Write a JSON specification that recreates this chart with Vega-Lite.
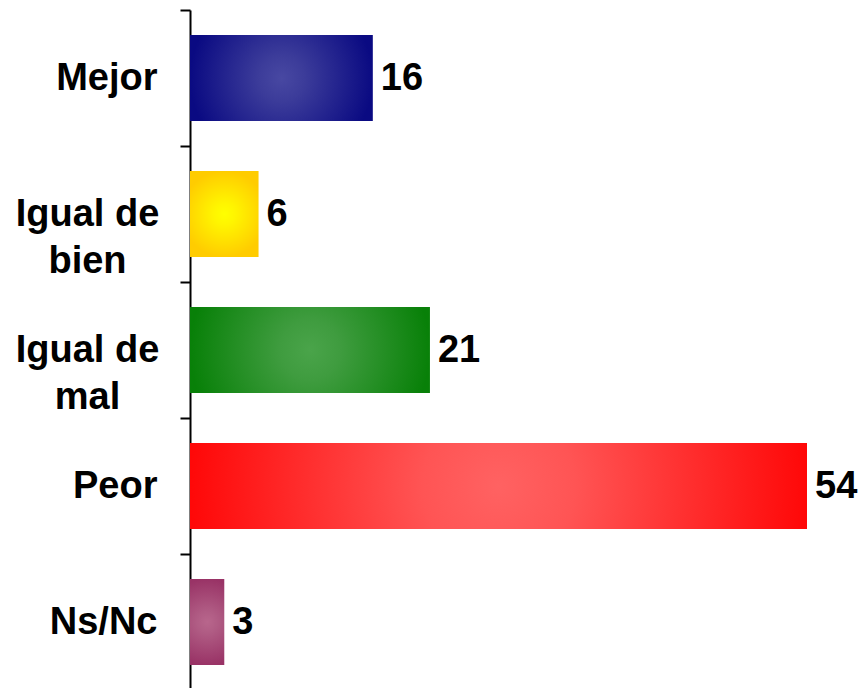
{
  "$schema": "https://vega.github.io/schema/vega-lite/v6.json",
  "width": 617,
  "height": 680,
  "autosize": "none",
  "padding": {"left": 190, "top": 10, "right": 54, "bottom": 0},
  "background": "white",
  "config": {"view": {"stroke": null}},
  "data": {
    "values": [
      {"c": "Mejor", "v": 16},
      {"c": "Igual de bien", "v": 6},
      {"c": "Igual de mal", "v": 21},
      {"c": "Peor", "v": 54},
      {"c": "Ns/Nc", "v": 3}
    ]
  },
  "encoding": {
    "y": {
      "field": "c",
      "type": "nominal",
      "sort": null,
      "scale": {"paddingInner": 0, "paddingOuter": 0},
      "axis": {
        "title": null,
        "tickBand": "extent",
        "domainColor": "black",
        "domainWidth": 2,
        "tickColor": "black",
        "tickWidth": 2,
        "tickSize": 10,
        "labelFont": "Liberation Sans",
        "labelFontWeight": "bold",
        "labelFontSize": 38,
        "labelColor": "black",
        "labelLineHeight": 47,
        "labelBaseline": "middle",
        "labelLimit": 300,
        "labelExpr": "datum.label == 'Igual de bien' ? ['Igual de', 'bien'] : datum.label == 'Igual de mal' ? ['Igual de', 'mal'] : datum.label",
        "labelAlign": {"condition": {"test": "datum.value == 'Igual de bien' || datum.value == 'Igual de mal'", "value": "center"}, "value": "right"},
        "labelPadding": {"condition": {"test": "datum.value == 'Igual de bien' || datum.value == 'Igual de mal'", "value": 93}, "value": 23}
      }
    },
    "x": {
      "field": "v",
      "type": "quantitative",
      "scale": {"domain": [0, 54], "nice": false},
      "axis": null
    }
  },
  "layer": [
    {
      "transform": [{"filter": "datum.c == 'Mejor'"}],
      "mark": {"type": "bar", "height": {"band": 0.632},
        "color": {"gradient": "radial", "x1": 0.5, "y1": 0.5, "x2": 0.5, "y2": 0.5, "r1": 0, "r2": 0.5,
          "stops": [{"offset": 0, "color": "#4848a2"}, {"offset": 0.25, "color": "#3c3c9a"}, {"offset": 1, "color": "#0a0a82"}]}}
    },
    {
      "transform": [{"filter": "datum.c == 'Igual de bien'"}],
      "mark": {"type": "bar", "height": {"band": 0.632},
        "color": {"gradient": "radial", "x1": 0.5, "y1": 0.5, "x2": 0.5, "y2": 0.5, "r1": 0, "r2": 0.5,
          "stops": [{"offset": 0, "color": "#ffff00"}, {"offset": 0.25, "color": "#fff500"}, {"offset": 1, "color": "#ffcc00"}]}}
    },
    {
      "transform": [{"filter": "datum.c == 'Igual de mal'"}],
      "mark": {"type": "bar", "height": {"band": 0.632},
        "color": {"gradient": "radial", "x1": 0.5, "y1": 0.5, "x2": 0.5, "y2": 0.5, "r1": 0, "r2": 0.5,
          "stops": [{"offset": 0, "color": "#4aa44a"}, {"offset": 0.25, "color": "#3f9c3f"}, {"offset": 1, "color": "#088008"}]}}
    },
    {
      "transform": [{"filter": "datum.c == 'Peor'"}],
      "mark": {"type": "bar", "height": {"band": 0.632},
        "color": {"gradient": "radial", "x1": 0.5, "y1": 0.5, "x2": 0.5, "y2": 0.5, "r1": 0, "r2": 0.5,
          "stops": [{"offset": 0, "color": "#ff6262"}, {"offset": 0.25, "color": "#ff5454"}, {"offset": 1, "color": "#ff0808"}]}}
    },
    {
      "transform": [{"filter": "datum.c == 'Ns/Nc'"}],
      "mark": {"type": "bar", "height": {"band": 0.632},
        "color": {"gradient": "radial", "x1": 0.5, "y1": 0.5, "x2": 0.5, "y2": 0.5, "r1": 0, "r2": 0.5,
          "stops": [{"offset": 0, "color": "#b8668c"}, {"offset": 0.25, "color": "#b05c84"}, {"offset": 1, "color": "#993366"}]}}
    },
    {
      "mark": {"type": "text", "align": "left", "baseline": "middle", "dx": 8, "dy": 1,
        "font": "Liberation Sans", "fontWeight": "bold", "fontSize": 38, "color": "black"},
      "encoding": {"text": {"field": "v", "type": "quantitative"}}
    }
  ]
}
